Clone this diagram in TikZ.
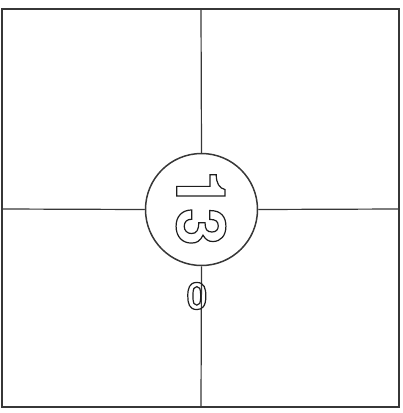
\documentclass[tikz,border=0pt]{standalone}
\usepackage{fontspec}
\setmainfont{TeX Gyre Heros}
\usetikzlibrary{positioning}
\definecolor{frameGray}{RGB}{55,55,55}
\definecolor{glyphGray}{RGB}{30,30,30}
\newcommand{\outlined}[1]{\special{pdf:literal direct 1 Tr 1.2 w}#1\special{pdf:literal direct 0 Tr}}
\tikzset{
  wall/.style={line width=1.5pt, draw=frameGray},
  split/.style={line width=1.2pt, draw=frameGray},
  hubring/.style={circle, draw=frameGray, line width=1.5pt, minimum size=112pt, inner sep=0pt},
  hollow/.style={font=\bfseries\fontsize{68}{68}\selectfont, text=glyphGray, inner sep=0pt}
}

\begin{document}
\begin{tikzpicture}[x=1pt, y=-1pt]
  \useasboundingbox (0,0) rectangle (403,413);
  % Outer frame
  \draw[wall] (2,9) rectangle (399,407);
  % Ring in the middle
  \node[hubring] (hub) at (201.5,209.5) {};
  \node[hollow, rotate=-90] (num) at (201,208) {\outlined{13}};
  % Where the cross meets the frame
  \coordinate (topmid) at (201,9);
  \coordinate (botmid) at (201,407);
  \coordinate (leftmid) at (2,209);
  \coordinate (rightmid) at (399,209);
  % Cross lines
  \draw[split] (topmid) -- (hub.north);
  \draw[split] (hub.south) -- (botmid);
  \draw[split] (leftmid) -- (hub.west);
  \draw[split] (hub.east) -- (rightmid);
  % Small mark below the ring
  \node[hollow, font=\bfseries\fontsize{37}{37}\selectfont] (mark) at (197,296) {\outlined{0}};
\end{tikzpicture}
\end{document}
